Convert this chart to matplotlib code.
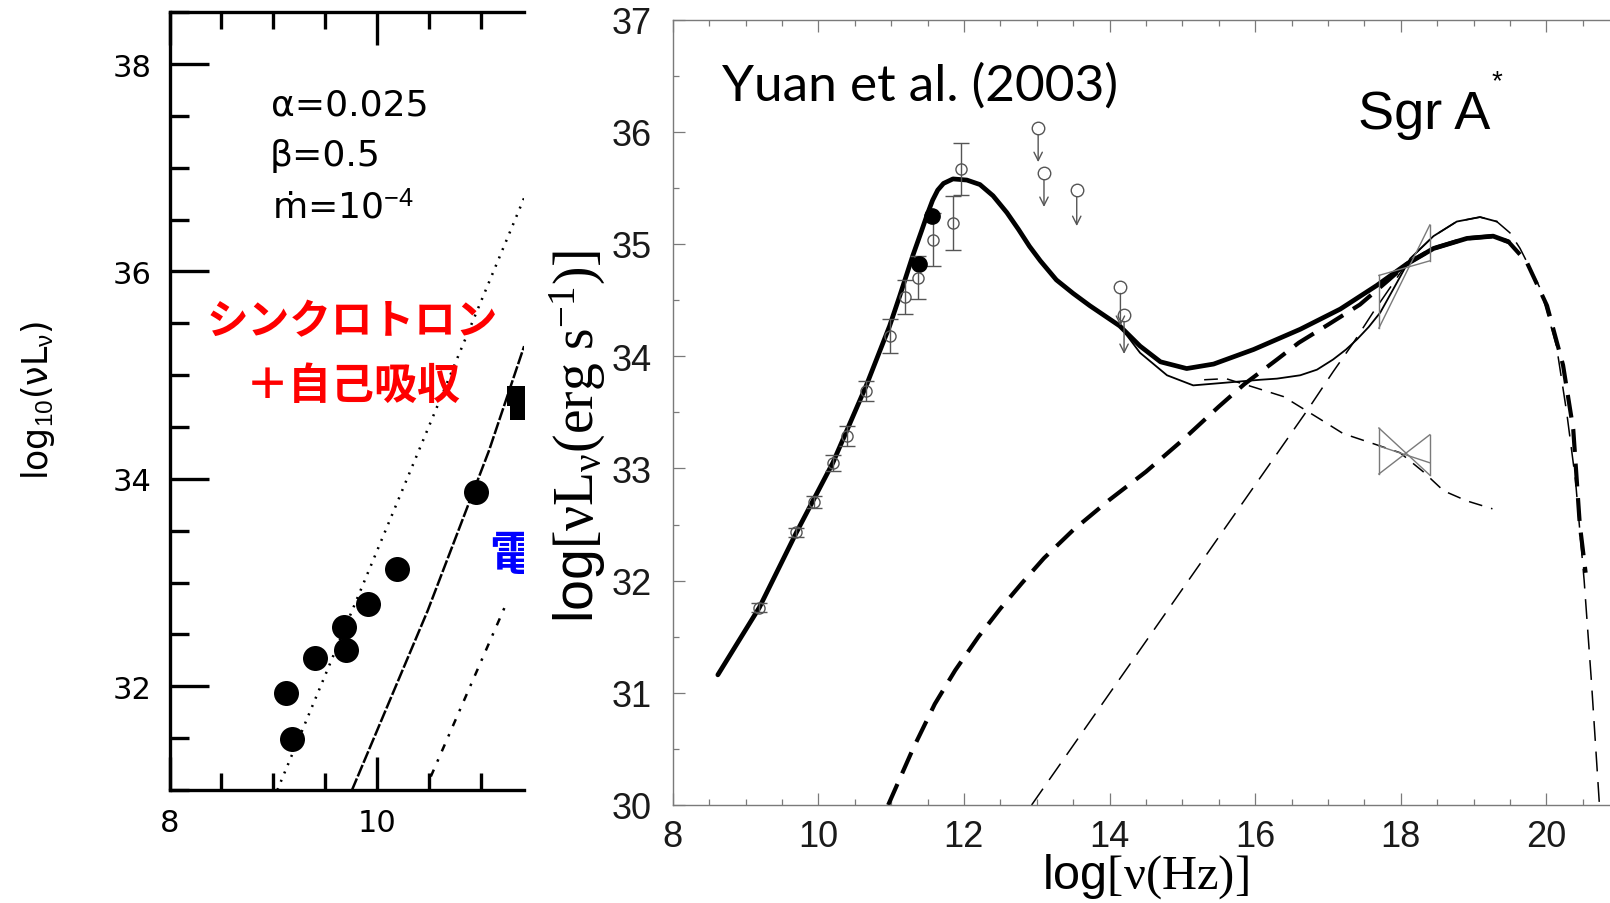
import matplotlib
matplotlib.use("Agg")
import matplotlib.pyplot as plt
from matplotlib.ticker import MultipleLocator

plt.rcParams["font.family"] = ["DejaVu Sans"]
plt.rcParams["mathtext.fontset"] = "custom"
plt.rcParams["mathtext.rm"] = "Liberation Serif"
plt.rcParams["mathtext.it"] = "Liberation Serif:italic"
plt.rcParams["mathtext.sf"] = "Liberation Sans"

# ---------------- left panel: ADAF model, radio points ----------------
adaf_obs_x = [9.12, 9.18, 9.40, 9.68, 9.70, 9.91, 10.19, 10.96]
adaf_obs_y = [31.94, 31.49, 32.27, 32.57, 32.35, 32.79, 33.13, 33.87]
adaf_sq_x = [11.35, 11.38]
adaf_sq_y = [34.80, 34.66]

dotted_x = [9.04, 11.42]
dotted_y = [31.00, 36.71]
model_x = [9.76, 10.11, 10.49, 11.08, 11.42]
model_y = [31.00, 31.83, 32.73, 34.27, 35.28]
dashdot_x = [10.52, 11.24]
dashdot_y = [31.13, 32.78]

# ---------------- right panel: Sgr A* SED ----------------
det_x = [9.19, 9.70, 9.94, 10.20, 10.39, 10.66, 10.99, 11.19, 11.37, 11.57, 11.85, 11.96]
det_y = [31.76, 32.43, 32.70, 33.05, 33.29, 33.69, 34.18, 34.53, 34.70, 35.04, 35.19, 35.67]
det_err = [0.04, 0.04, 0.05, 0.07, 0.09, 0.085, 0.15, 0.15, 0.19, 0.24, 0.24, 0.23]

filled_x = [11.38, 11.56]
filled_y = [34.82, 35.25]

ul_x = [13.02, 13.10, 13.55, 14.15, 14.20]
ul_y = [36.03, 35.63, 35.48, 34.62, 34.37]
ul_tip = [35.73, 35.33, 35.16, 34.27, 34.02]

total_x = [8.62, 9.19, 9.70, 10.20, 10.66, 10.98, 11.12, 11.30, 11.42, 11.50, 11.57,
           11.64, 11.72, 11.85, 12.04, 12.22, 12.40, 12.59, 12.75, 12.90, 13.05,
           13.27, 13.50, 13.73, 14.14, 14.42, 14.70, 15.06, 15.43, 15.98, 16.62,
           17.17, 17.67, 18.08, 18.45, 18.91, 19.27, 19.48]
total_y = [31.16, 31.76, 32.43, 33.05, 33.74, 34.27, 34.54, 34.90, 35.12, 35.27, 35.39,
           35.48, 35.54, 35.58, 35.57, 35.53, 35.43, 35.28, 35.13, 34.98, 34.85,
           34.68, 34.56, 34.45, 34.27, 34.09, 33.95, 33.89, 33.93, 34.06, 34.24,
           34.42, 34.63, 34.82, 34.96, 35.05, 35.07, 35.02]

alt_x = [13.73, 14.14, 14.42, 14.79, 15.15, 15.52, 16.07, 16.30, 16.62, 16.85,
         17.07, 17.25, 17.40, 17.56, 17.72, 17.90, 18.13, 18.45, 18.77, 19.09, 19.32]
alt_y = [34.45, 34.27, 34.03, 33.83, 33.74, 33.76, 33.79, 33.80, 33.83, 33.88,
         33.97, 34.06, 34.15, 34.26, 34.39, 34.60, 34.87, 35.07, 35.20, 35.24, 35.20]

compt_x = [10.96, 11.30, 11.60, 11.88, 12.20, 12.50, 12.80, 13.10, 13.50, 14.00,
           14.50, 15.00, 15.50, 15.85, 16.30, 16.60, 17.00, 17.44, 17.80, 18.10,
           18.45, 18.90, 19.27, 19.48, 19.73, 20.01, 20.23, 20.37, 20.46, 20.54]
compt_y = [30.00, 30.50, 30.90, 31.20, 31.50, 31.75, 31.98, 32.20, 32.45, 32.72,
           32.97, 33.25, 33.55, 33.75, 33.97, 34.12, 34.28, 34.46, 34.66, 34.83,
           34.96, 35.05, 35.07, 35.02, 34.84, 34.45, 33.92, 33.35, 32.50, 32.07]

brems_x = [12.93, 16.73, 17.07, 17.35, 17.62, 18.13, 18.45, 18.77, 19.09, 19.32,
           19.50, 19.64, 19.92, 20.14, 20.28, 20.40, 20.52, 20.62, 20.73]
brems_y = [30.00, 33.53, 33.86, 34.12, 34.39, 34.87, 35.07, 35.20, 35.24, 35.20,
           35.10, 34.96, 34.60, 34.09, 33.50, 32.90, 32.00, 31.10, 30.00]

sync_tail_x = [15.30, 15.60, 16.00, 16.39, 16.89, 17.21, 17.58, 17.99, 18.31,
               18.59, 18.91, 19.26]
sync_tail_y = [33.79, 33.80, 33.72, 33.64, 33.44, 33.31, 33.23, 33.14, 32.97,
               32.80, 32.71, 32.64]

# X-ray bow ties: quiescent (lower) and flare (upper)
bow_x = [17.70, 18.40]
bow_q_lo = [32.95, 32.94]
bow_q_hi = [33.36, 33.30]
bow_q_fit = [33.20, 33.05]
bow_f_lo = [34.25, 34.85]
bow_f_hi = [34.72, 35.17]

W, H = 1610, 904
fig = plt.figure(figsize=(W / 100, H / 100), dpi=100)
fig.patch.set_facecolor("white")

# ---------------- left panel ----------------
axL = fig.add_axes([169.5 / W, 1 - 791.0 / H, (524 - 169.5) / W, 777.75 / H])
axL.set_xlim(8, 8 + (524 - 169.5) / 103.7)
axL.set_ylim(31, 38.5)
for s in ("left", "bottom", "top"):
    axL.spines[s].set_linewidth(2.4)
axL.spines["right"].set_visible(False)
axL.xaxis.set_major_locator(MultipleLocator(2))
axL.xaxis.set_minor_locator(MultipleLocator(0.5))
axL.yaxis.set_major_locator(MultipleLocator(2))
axL.yaxis.set_minor_locator(MultipleLocator(0.5))
axL.tick_params(which="both", direction="in", top=True, right=False, width=2.4,
                labelsize=22, pad=13)
axL.tick_params(axis="y", which="major", length=28)
axL.tick_params(axis="y", which="minor", length=14)
axL.tick_params(axis="x", which="major", length=24)
axL.tick_params(axis="x", which="minor", length=12)

axL.plot(dotted_x, dotted_y, color="black", lw=1.8, linestyle=(0, (0.8, 2.8)))
axL.plot(model_x, model_y, color="black", lw=1.8, linestyle=(0, (5, 0.9)))
axL.plot(dashdot_x, dashdot_y, color="black", lw=1.8, linestyle=(0, (3, 3.5, 1, 3.5)))
axL.plot(adaf_obs_x, adaf_obs_y, "o", color="black", ms=18, mew=0)
axL.plot(adaf_sq_x, adaf_sq_y, "s", color="black", ms=15, mew=0)

axL.text(8.98, 37.51, "α=0.025", fontsize=26)
axL.text(8.97, 37.03, "β=0.5", fontsize=26)
axL.text(8.99, 36.52, "ṁ=10$^{\\mathsf{-4}}$", fontsize=26)
axL.text(9.76, 35.52, "シンクロトロン", color="#ff0000", fontsize=30,
         fontweight="bold", ha="center", va="center",
         family=["Noto Sans CJK JP", "DejaVu Sans"])
axL.text(9.77, 34.91, "＋自己吸収", color="#ff0000", fontsize=31,
         fontweight="bold", ha="center", va="center",
         family=["Noto Sans CJK JP", "DejaVu Sans"])
axL.text(11.08, 33.27, "電", color="#0000ff", fontsize=34, fontweight="bold",
         va="center", clip_on=True, family=["Noto Sans CJK JP", "DejaVu Sans"])
fig.text(38 / W, 1 - 400 / H, "log$_{\\mathsf{10}}$(νL$_{\\mathsf{ν}}$)",
         rotation=90, ha="center", va="center", fontsize=25)

# ---------------- right panel ----------------
gray = "#7a7a7a"
axR = fig.add_axes([672.7 / W, (H - 806) / H, (W - 672.7) / W, (806 - 20.6) / H])
axR.set_xlim(8, 8 + (W - 672.7) / 72.8)
axR.set_ylim(30, 37)
for s in ("left", "bottom", "top"):
    axR.spines[s].set_color(gray)
    axR.spines[s].set_linewidth(1.0)
axR.spines["right"].set_visible(False)
axR.xaxis.set_major_locator(MultipleLocator(2))
axR.xaxis.set_minor_locator(MultipleLocator(0.5))
axR.yaxis.set_major_locator(MultipleLocator(1))
axR.yaxis.set_minor_locator(MultipleLocator(0.5))
axR.tick_params(which="both", direction="in", top=True, right=False, color=gray,
                width=0.9, labelsize=26, labelcolor="#1a1a1a")
axR.tick_params(which="major", length=8.5)
axR.tick_params(which="minor", length=4.2)
axR.tick_params(axis="x", pad=10)
axR.tick_params(axis="y", pad=15)
for lab in axR.get_xticklabels() + axR.get_yticklabels():
    lab.set_family("Liberation Sans")

# model curves
axR.plot(total_x, total_y, color="black", lw=3.4, solid_capstyle="round",
         solid_joinstyle="round")
axR.plot(alt_x, alt_y, color="black", lw=1.3, solid_joinstyle="round")
axR.plot(compt_x, compt_y, color="black", lw=3.0, linestyle=(0, (5.5, 2.8)))
axR.plot(brems_x, brems_y, color="black", lw=1.1, linestyle=(0, (13, 7)))
axR.plot(sync_tail_x, sync_tail_y, color="black", lw=1.1, linestyle=(0, (9, 6)))

# X-ray bow ties
for lo, hi, fit in ((bow_q_lo, bow_q_hi, bow_q_fit), (bow_f_lo, bow_f_hi, None)):
    axR.plot([bow_x[0], bow_x[0]], [lo[0], hi[0]], color=gray, lw=1.0)
    axR.plot([bow_x[1], bow_x[1]], [lo[1], hi[1]], color=gray, lw=1.0)
    axR.plot(bow_x, [lo[0], hi[1]], color=gray, lw=1.0)
    axR.plot(bow_x, [hi[0], lo[1]], color=gray, lw=1.0)
    if fit is not None:
        axR.plot(bow_x, fit, color=gray, lw=1.0)

# observations
axR.errorbar(det_x, det_y, yerr=det_err, fmt="o", mfc="none", mec="#555555",
             ecolor="#555555", ms=8, mew=1.0, elinewidth=1.0, capsize=6, capthick=1.0)
axR.plot(filled_x, filled_y, "o", color="black", ms=11)
axR.plot(ul_x, ul_y, "o", mfc="none", mec="#555555", ms=9, mew=1.0)
for x0, y0, y1 in zip(ul_x, ul_y, ul_tip):
    axR.annotate("", xy=(x0, y1), xytext=(x0, y0 - 0.06),
                 arrowprops=dict(arrowstyle="->,head_length=0.6,head_width=0.3",
                                 color="#555555", lw=1.0, shrinkA=0, shrinkB=0))

axR.text(8.68, 36.29, "Yuan et al. (2003)", fontsize=37, family="Lato")
axR.text(17.41, 36.03, "Sgr A", fontsize=39, family="Liberation Sans")
axR.text(19.32, 36.45, "*", fontsize=20, family="Liberation Sans",
         ha="center", va="center")

fig.text(578 / W, 1 - 436 / H,
         "$\\mathsf{log}\\mathrm{[\\nu L_{\\nu}(erg\\ s^{-1})]}$",
         rotation=90, ha="center", va="center", fontsize=40)
fig.text(1145 / W, 3 / H, "$\\mathsf{log}\\mathrm{[\\nu(Hz)]}$",
         ha="center", va="bottom", fontsize=35)

fig.savefig("out.png", dpi=100, facecolor="white")
